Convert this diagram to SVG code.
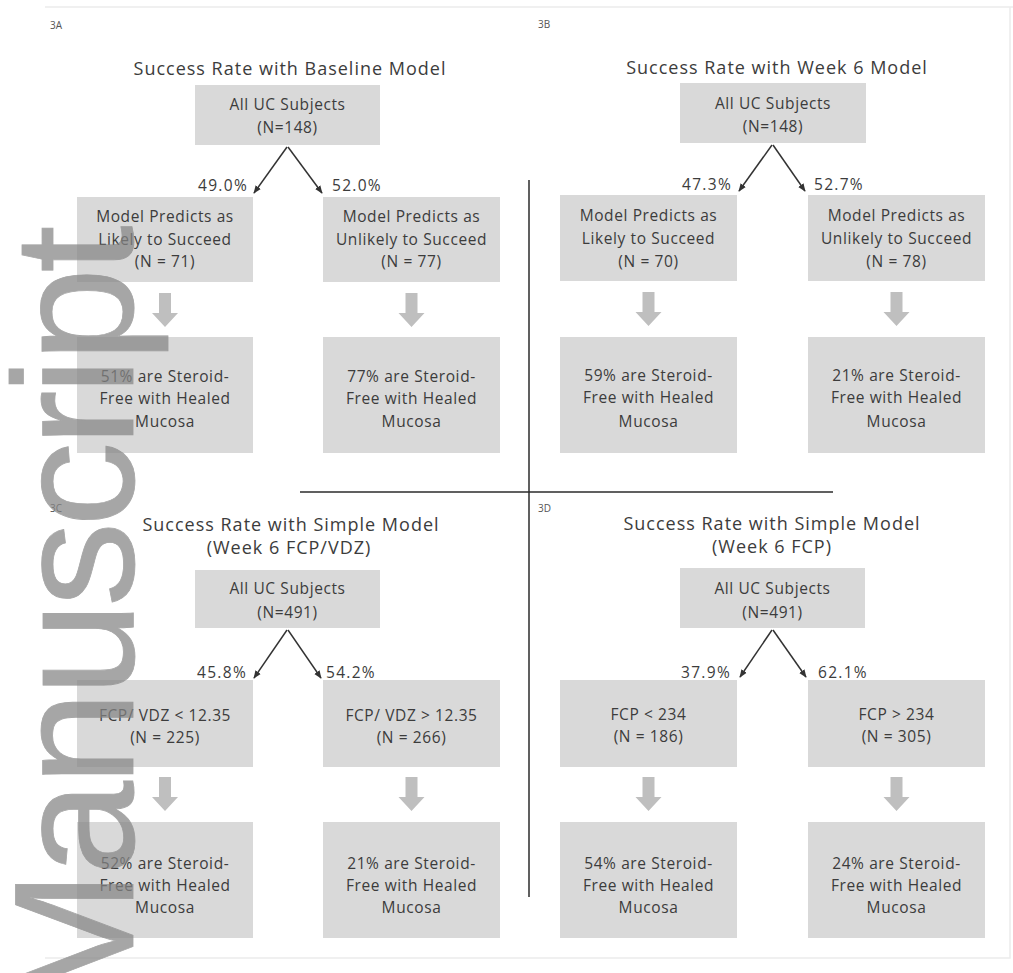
<svg xmlns="http://www.w3.org/2000/svg" width="1013" height="973" viewBox="0 0 1013 973">
<style>
 text { font-family: "Open Sans", "Liberation Sans", sans-serif; fill:#3c3c3c; }
 .t { font-size:18px; letter-spacing:1px; text-anchor:middle; }
 .b { font-size:15.5px; letter-spacing:0.6px; text-anchor:middle; }
 .pe { font-size:15.5px; letter-spacing:1.3px; text-anchor:end; }
 .ps { font-size:15.5px; letter-spacing:1.3px; text-anchor:start; }
 .lbl { font-size:10px; fill:#555; }
 .box { fill:#d9d9d9; }
 .dn { fill:#bfbfbf; }
 .ln { stroke:#333; stroke-width:1.5; fill:none; marker-end:url(#ah); }
 .div { stroke:#2b2b2b; stroke-width:1.5; }
 .frame { stroke:#ececec; stroke-width:1.5; fill:none; }
 .wm { font-family:"Liberation Sans", Arial, sans-serif; font-size:170px; letter-spacing:-5px; fill:#858585; stroke:#858585; stroke-width:0.8; }
</style>
<defs>
 <marker id="ah" viewBox="0 0 10 10" refX="9" refY="5" markerWidth="8" markerHeight="8" orient="auto" markerUnits="userSpaceOnUse"><path d="M0,1 L10,5 L0,9 Z" fill="#333"/></marker>
 <path id="da" d="M-6,0 H6 V20 H13 L0,34 L-13,20 H-6 Z"/>
</defs>
<rect width="1013" height="973" fill="#ffffff"/>
<g id="frame">
 <path class="frame" d="M45,7 H1013 M45,958 H1010 V7"/>
</g>
<g id="panel-labels">
 <text class="lbl" x="50" y="29">3A</text>
 <text class="lbl" x="538" y="28">3B</text>
 <text class="lbl" x="50" y="512">3C</text>
 <text class="lbl" x="538" y="512">3D</text>
</g>
<g id="titles">
 <text class="t" x="290" y="75">Success Rate with Baseline Model</text>
 <text class="t" x="777" y="74">Success Rate with Week 6 Model</text>
 <text class="t" x="291" y="531">Success Rate with Simple Model</text>
 <text class="t" x="289" y="554">(Week 6 FCP/VDZ)</text>
 <text class="t" x="772" y="530">Success Rate with Simple Model</text>
 <text class="t" x="772" y="553">(Week 6 FCP)</text>
</g>
<g id="dividers">
 <line class="div" x1="529" y1="180" x2="529" y2="897"/>
 <line class="div" x1="300" y1="492" x2="833" y2="492"/>
</g>
<!-- Panel 3A -->
<g id="A-top"><rect class="box" x="195" y="85" width="185" height="60"/>
 <text class="b" x="287.5" y="110">All UC Subjects</text><text class="b" x="287.5" y="133">(N=148)</text></g>
<g id="A-left"><rect class="box" x="77" y="197" width="176" height="85"/>
 <text class="b" x="165" y="222">Model Predicts as</text><text class="b" x="165" y="245">Likely to Succeed</text><text class="b" x="165" y="267">(N = 71)</text></g>
<g id="A-right"><rect class="box" x="323" y="197" width="177" height="85"/>
 <text class="b" x="411.5" y="222">Model Predicts as</text><text class="b" x="411.5" y="245">Unlikely to Succeed</text><text class="b" x="411.5" y="267">(N = 77)</text></g>
<g id="A-left-result"><rect class="box" x="77" y="337" width="176" height="116"/>
 <text class="b" x="165" y="382">51% are Steroid-</text><text class="b" x="165" y="404">Free with Healed</text><text class="b" x="165" y="427">Mucosa</text></g>
<g id="A-right-result"><rect class="box" x="323" y="337" width="177" height="116"/>
 <text class="b" x="411.5" y="382">77% are Steroid-</text><text class="b" x="411.5" y="404">Free with Healed</text><text class="b" x="411.5" y="427">Mucosa</text></g>
<!-- Panel 3B -->
<g id="B-top"><rect class="box" x="680" y="83" width="186" height="60"/>
 <text class="b" x="773" y="109">All UC Subjects</text><text class="b" x="773" y="132">(N=148)</text></g>
<g id="B-left"><rect class="box" x="560" y="195" width="177" height="86"/>
 <text class="b" x="648.5" y="221">Model Predicts as</text><text class="b" x="648.5" y="244">Likely to Succeed</text><text class="b" x="648.5" y="267">(N = 70)</text></g>
<g id="B-right"><rect class="box" x="808" y="195" width="177" height="86"/>
 <text class="b" x="896.5" y="221">Model Predicts as</text><text class="b" x="896.5" y="244">Unlikely to Succeed</text><text class="b" x="896.5" y="267">(N = 78)</text></g>
<g id="B-left-result"><rect class="box" x="560" y="337" width="177" height="116"/>
 <text class="b" x="648.5" y="381">59% are Steroid-</text><text class="b" x="648.5" y="403">Free with Healed</text><text class="b" x="648.5" y="427">Mucosa</text></g>
<g id="B-right-result"><rect class="box" x="808" y="337" width="177" height="116"/>
 <text class="b" x="896.5" y="381">21% are Steroid-</text><text class="b" x="896.5" y="403">Free with Healed</text><text class="b" x="896.5" y="427">Mucosa</text></g>
<!-- Panel 3C -->
<g id="C-top"><rect class="box" x="195" y="570" width="185" height="58"/>
 <text class="b" x="287.5" y="594">All UC Subjects</text><text class="b" x="287.5" y="618">(N=491)</text></g>
<g id="C-left"><rect class="box" x="77" y="680" width="176" height="87"/>
 <text class="b" x="165" y="721">FCP/ VDZ &lt; 12.35</text><text class="b" x="165" y="743">(N = 225)</text></g>
<g id="C-right"><rect class="box" x="323" y="680" width="177" height="87"/>
 <text class="b" x="411.5" y="721">FCP/ VDZ &gt; 12.35</text><text class="b" x="411.5" y="743">(N = 266)</text></g>
<g id="C-left-result"><rect class="box" x="77" y="822" width="176" height="116"/>
 <text class="b" x="165" y="869">52% are Steroid-</text><text class="b" x="165" y="891">Free with Healed</text><text class="b" x="165" y="913">Mucosa</text></g>
<g id="C-right-result"><rect class="box" x="323" y="822" width="177" height="116"/>
 <text class="b" x="411.5" y="869">21% are Steroid-</text><text class="b" x="411.5" y="891">Free with Healed</text><text class="b" x="411.5" y="913">Mucosa</text></g>
<!-- Panel 3D -->
<g id="D-top"><rect class="box" x="680" y="568" width="185" height="60"/>
 <text class="b" x="772.5" y="594">All UC Subjects</text><text class="b" x="772.5" y="618">(N=491)</text></g>
<g id="D-left"><rect class="box" x="560" y="680" width="177" height="87"/>
 <text class="b" x="648.5" y="720">FCP &lt; 234</text><text class="b" x="648.5" y="742">(N = 186)</text></g>
<g id="D-right"><rect class="box" x="808" y="680" width="177" height="87"/>
 <text class="b" x="896.5" y="720">FCP &gt; 234</text><text class="b" x="896.5" y="742">(N = 305)</text></g>
<g id="D-left-result"><rect class="box" x="560" y="822" width="177" height="116"/>
 <text class="b" x="648.5" y="869">54% are Steroid-</text><text class="b" x="648.5" y="891">Free with Healed</text><text class="b" x="648.5" y="913">Mucosa</text></g>
<g id="D-right-result"><rect class="box" x="808" y="822" width="177" height="116"/>
 <text class="b" x="896.5" y="869">24% are Steroid-</text><text class="b" x="896.5" y="891">Free with Healed</text><text class="b" x="896.5" y="913">Mucosa</text></g>
<g id="connectors">
 <path class="ln" d="M287,147 L254,193"/>
 <path class="ln" d="M288,147 L322,193"/>
 <path class="ln" d="M772,145 L739,191"/>
 <path class="ln" d="M773,145 L805,191"/>
 <path class="ln" d="M287,630 L254,678"/>
 <path class="ln" d="M288,630 L321,678"/>
 <path class="ln" d="M772,630 L740,677"/>
 <path class="ln" d="M773,630 L806,677"/>
 <use href="#da" class="dn" x="165" y="293"/>
 <use href="#da" class="dn" x="411.5" y="293"/>
 <use href="#da" class="dn" x="648.5" y="292"/>
 <use href="#da" class="dn" x="896.5" y="292"/>
 <use href="#da" class="dn" x="165" y="777"/>
 <use href="#da" class="dn" x="411.5" y="777"/>
 <use href="#da" class="dn" x="648.5" y="777"/>
 <use href="#da" class="dn" x="896.5" y="777"/>
 <text class="pe" x="248" y="191">49.0%</text>
 <text class="ps" x="332" y="191">52.0%</text>
 <text class="pe" x="732" y="190">47.3%</text>
 <text class="ps" x="814" y="190">52.7%</text>
 <text class="pe" x="247" y="678">45.8%</text>
 <text class="ps" x="326" y="678">54.2%</text>
 <text class="pe" x="731" y="678">37.9%</text>
 <text class="ps" x="818" y="678">62.1%</text>
</g>
<g id="watermark" opacity="0.72">
 <text class="wm" transform="translate(133,1012) rotate(-90)">Manuscript</text>
</g>
</svg>
